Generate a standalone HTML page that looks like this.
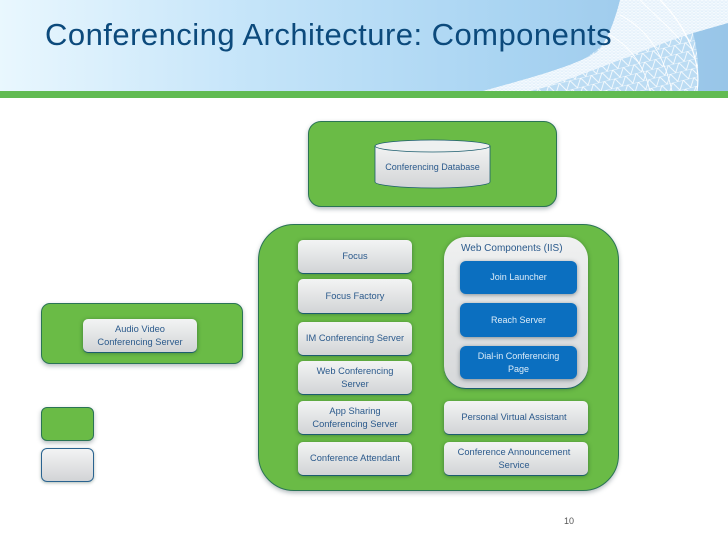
<!DOCTYPE html>
<html>
<head>
<meta charset="utf-8">
<style>
html,body{margin:0;padding:0;background:#fff}
#p{position:relative;width:728px;height:546px;overflow:hidden;background:#fff;font-family:"Liberation Sans",sans-serif}
.a{position:absolute;box-sizing:border-box}
.g{background:#6abb46;border:1px solid #2a7455;box-shadow:0 2px 5px rgba(60,80,90,.4)}
.c{background:linear-gradient(#f3f4f4,#d2d4d6);border-radius:5px;box-shadow:0 1px 0 #1c5d6e,0 1px 4px rgba(20,60,40,.5);color:#2b5a8c;font-size:9.3px;line-height:13px;display:flex;align-items:center;justify-content:center;text-align:center}
.b{background:#0b6fc0;border-radius:6px;box-shadow:0 1px 4px rgba(40,60,70,.5);color:#dcecf8;font-size:9px;line-height:13px;display:flex;align-items:center;justify-content:center;text-align:center}
</style>
</head>
<body>
<div id="p">
<svg class="a" style="left:0;top:0" width="728" height="98">
<defs>
<linearGradient id="h" x1="0" x2="1" y1="0" y2="0"><stop offset="0" stop-color="#e9f7fe"/><stop offset=".35" stop-color="#c4e4f9"/><stop offset=".7" stop-color="#a9d4f2"/><stop offset="1" stop-color="#98c5e8"/></linearGradient>
<pattern id="m" width="4" height="3" patternUnits="userSpaceOnUse"><path d="M0 3L2 0L4 3M0 0H4" fill="none" stroke="#fff" stroke-width=".5"/></pattern>
<pattern id="n" width="11" height="9" patternUnits="userSpaceOnUse" patternTransform="rotate(-14)"><path d="M0 9L5.500 0L11 9M0 0H11" fill="none" stroke="#fff" stroke-width=".8"/></pattern>
</defs>
<rect width="728" height="91" fill="url(#h)"/>
<path d="M483 91C540 80 590 66 610 35L693 33C699 55 699 75 697 91Z" fill="#bcdcf3"/>
<path d="M483 91C540 80 590 66 610 35L693 33C699 55 699 75 697 91Z" fill="url(#n)"/>
<path d="M620 0C615 20 607 42 597 52C575 66 530 78 483 91L530 91C580 78 640 50 693 33L728 23V0Z" fill="#e4f1fb"/>
<path d="M620 0C615 20 607 42 597 52C575 66 530 78 483 91L530 91C580 78 640 50 693 33L728 23V0Z" fill="url(#m)"/>
<path d="M660 0C685 25 702 60 697 91" fill="none" stroke="#fff" stroke-width="1.2"/>
<path d="M640 0C660 20 672 30 680 40M620 15C650 30 665 60 672 91M610 35C635 50 645 70 650 91" fill="none" stroke="#fff" stroke-width=".8"/>
<rect y="91" width="728" height="7" fill="#61bb52"/>
<rect y="98" width="728" height="1" fill="#cfe9c8"/>
</svg>
<div class="a" style="left:45px;top:15px;font-size:31px;line-height:40px;color:#0c4a7c;white-space:nowrap;letter-spacing:.47px">Conferencing Architecture: Components</div>

<div class="a g" style="left:308px;top:121px;width:249px;height:86px;border-radius:13px"></div>
<svg class="a" style="left:370px;top:135px" width="126" height="60">
<defs><linearGradient id="cy" x1="0" x2="0" y1="0" y2="1"><stop offset="0" stop-color="#f2f3f3"/><stop offset="1" stop-color="#d2d4d6"/></linearGradient></defs>
<path d="M5 11V47C5 50 30 53 63 53S120 50 120 47V11Z" fill="url(#cy)" stroke="#1c5d6e" stroke-width=".8"/>
<ellipse cx="62.500" cy="11" rx="57.500" ry="6" fill="#eef0f0" stroke="#1c5d6e" stroke-width=".8"/>
<text x="62.500" y="35" text-anchor="middle" font-family="Liberation Sans" font-size="9" fill="#2b5a8c">Conferencing Database</text>
</svg>

<div class="a g" style="left:258px;top:224px;width:361px;height:267px;border-radius:36px"></div>
<div class="a c" style="left:298px;top:240px;width:114px;height:33px">Focus</div>
<div class="a c" style="left:298px;top:279px;width:114px;height:34px">Focus Factory</div>
<div class="a c" style="left:298px;top:322px;width:114px;height:33px">IM Conferencing Server</div>
<div class="a c" style="left:298px;top:361px;width:114px;height:33px">Web Conferencing<br>Server</div>
<div class="a c" style="left:298px;top:401px;width:114px;height:33px">App Sharing<br>Conferencing Server</div>
<div class="a c" style="left:298px;top:442px;width:114px;height:33px">Conference Attendant</div>

<div class="a c" style="left:444px;top:237px;width:144px;height:151px;border-radius:22px;background:linear-gradient(#f0f1f1,#d6d8da);display:block"></div>
<div class="a" style="left:461px;top:242px;font-size:10px;line-height:14px;color:#2b5a8c;white-space:nowrap">Web Components (IIS)</div>
<div class="a b" style="left:460px;top:261px;width:117px;height:33px">Join Launcher</div>
<div class="a b" style="left:460px;top:303px;width:117px;height:34px">Reach Server</div>
<div class="a b" style="left:460px;top:346px;width:117px;height:33px">Dial-in Conferencing<br>Page</div>
<div class="a c" style="left:444px;top:401px;width:144px;height:33px;padding-right:4px">Personal Virtual Assistant</div>
<div class="a c" style="left:444px;top:442px;width:144px;height:33px;padding-right:4px">Conference Announcement<br>Service</div>

<div class="a g" style="left:41px;top:303px;width:202px;height:61px;border-radius:9px"></div>
<div class="a c" style="left:83px;top:319px;width:114px;height:33px">Audio Video<br>Conferencing Server</div>
<div class="a g" style="left:41px;top:407px;width:53px;height:34px;border-radius:6px"></div>
<div class="a c" style="left:41px;top:448px;width:53px;height:34px;border:1px solid #2a6390;border-radius:6px;box-shadow:0 1px 3px rgba(20,60,40,.35)"></div>
<div class="a" style="left:564px;top:516px;font-size:9px;line-height:11px;color:#555">10</div>
</div>
</body>
</html>
